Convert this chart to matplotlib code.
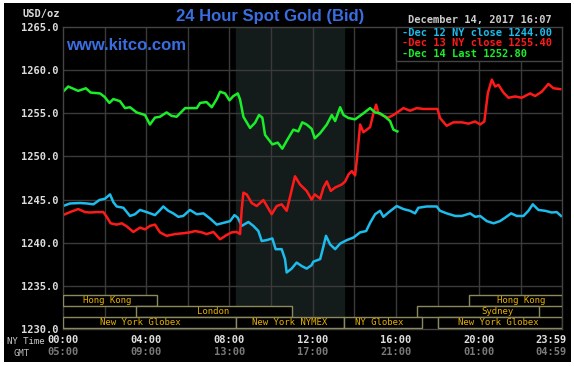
import numpy as np
import matplotlib
matplotlib.use('Agg')
import matplotlib.pyplot as plt
from matplotlib.patches import Rectangle
from matplotlib.transforms import offset_copy

# --- data (hours NY time, USD/oz) ---
green_t = [0.0, 0.25, 0.73, 1.1, 1.33, 1.78, 2.0, 2.23, 2.42, 2.74, 2.98, 3.22, 3.54, 3.94,
           4.18, 4.42, 4.66, 4.98, 5.22, 5.46, 5.87, 6.43, 6.59, 6.9, 7.15, 7.39, 7.55, 7.79,
           8.0, 8.19, 8.4, 8.51, 8.67, 8.99, 9.23, 9.42, 9.58, 9.71, 10.06, 10.32, 10.54,
           10.75, 11.07, 11.31, 11.5, 11.71, 11.95, 12.1, 12.36, 12.68, 12.92, 13.08, 13.32,
           13.48, 13.72, 14.04, 14.44, 14.76, 15.0, 15.24, 15.48, 15.72, 15.88, 16.07]
green_v = [1257.5, 1258.1, 1257.6, 1257.9, 1257.4, 1257.3, 1256.9, 1256.2, 1256.65, 1256.4,
           1255.6, 1255.7, 1255.1, 1254.8, 1253.7, 1254.5, 1254.6, 1255.1, 1254.7, 1254.6,
           1255.6, 1255.6, 1256.2, 1256.3, 1255.7, 1256.65, 1257.5, 1257.3, 1256.5, 1257.0,
           1257.3, 1256.6, 1254.6, 1253.3, 1253.9, 1254.8, 1254.5, 1252.5, 1251.4, 1251.6,
           1250.9, 1251.8, 1253.1, 1252.9, 1253.95, 1253.7, 1253.2, 1252.1, 1252.7, 1253.7,
           1254.8, 1254.1, 1255.7, 1254.8, 1254.45, 1254.3, 1255.0, 1255.6, 1255.1, 1255.0,
           1254.6, 1254.1, 1253.1, 1252.9]

red_t = [0.0, 0.34, 0.73, 1.06, 1.3, 1.62, 1.94, 2.1, 2.29, 2.58, 2.82, 3.06, 3.38, 3.7, 3.94,
         4.18, 4.42, 4.66, 4.98, 5.38, 5.78, 6.1, 6.35, 6.67, 6.9, 7.23, 7.55, 7.87, 8.11,
         8.35, 8.51, 8.59, 8.67, 8.83, 9.07, 9.31, 9.63, 10.03, 10.27, 10.51, 10.75, 10.96,
         11.15, 11.39, 11.71, 11.95, 12.1, 12.36, 12.52, 12.68, 12.87, 13.08, 13.4, 13.56,
         13.72, 13.88, 14.04, 14.12, 14.2, 14.28, 14.44, 14.6, 14.76, 14.92, 15.05, 15.16,
         15.4, 15.64, 15.88, 16.12, 16.36, 16.68, 17.0, 17.32, 18.0, 18.12, 18.44, 18.76,
         19.17, 19.49, 19.81, 20.05, 20.25, 20.42, 20.61, 20.77, 20.93, 21.17, 21.41, 21.73,
         22.05, 22.45, 22.69, 23.01, 23.33, 23.57, 23.9]
red_v = [1243.2, 1243.55, 1243.9, 1243.55, 1243.5, 1243.55, 1243.55, 1243.0, 1242.25, 1242.1,
         1242.25, 1241.9, 1241.25, 1241.75, 1241.55, 1241.95, 1242.1, 1241.2, 1240.8, 1241.0,
         1241.1, 1241.2, 1241.35, 1241.2, 1241.0, 1241.25, 1240.4, 1240.9, 1241.2, 1241.25,
         1241.0, 1243.9, 1245.8, 1245.6, 1244.6, 1244.25, 1244.95, 1243.3, 1244.25, 1244.45,
         1243.7, 1245.8, 1247.7, 1246.75, 1246.0, 1245.0, 1245.6, 1245.1, 1246.4, 1247.1,
         1246.0, 1246.4, 1246.75, 1247.1, 1247.9, 1248.3, 1247.8, 1249.6, 1251.6, 1253.7,
         1252.8, 1253.1, 1253.4, 1255.0, 1256.0, 1255.0, 1254.7, 1254.5, 1254.8, 1255.2,
         1255.6, 1255.3, 1255.6, 1255.5, 1255.5, 1254.45, 1253.55, 1253.95, 1253.95, 1253.8,
         1254.05, 1253.7, 1254.05, 1257.35, 1258.9, 1258.1, 1258.3, 1257.4, 1256.8, 1256.95,
         1256.8, 1257.3, 1257.0, 1257.5, 1258.4, 1257.9, 1257.8]

blue_t = [0.0, 0.34, 0.82, 1.14, 1.46, 1.75, 2.02, 2.26, 2.42, 2.58, 2.9, 3.22, 3.46, 3.7,
          4.02, 4.42, 4.63, 4.82, 5.06, 5.3, 5.54, 5.78, 6.1, 6.43, 6.75, 7.07, 7.39, 7.71,
          8.03, 8.24, 8.4, 8.59, 8.91, 9.15, 9.39, 9.55, 9.79, 10.06, 10.22, 10.51, 10.67,
          10.75, 10.99, 11.23, 11.47, 11.71, 11.95, 12.03, 12.36, 12.52, 12.64, 12.84, 13.08,
          13.32, 13.64, 13.96, 14.28, 14.57, 14.76, 15.0, 15.24, 15.4, 15.64, 16.04, 16.36,
          16.68, 16.92, 17.08, 17.48, 17.96, 18.12, 18.44, 18.85, 19.17, 19.57, 19.81, 20.05,
          20.37, 20.69, 21.0, 21.25, 21.54, 21.81, 22.13, 22.37, 22.58, 22.85, 23.17, 23.49,
          23.73, 23.94]
blue_v = [1244.25, 1244.55, 1244.6, 1244.55, 1244.45, 1244.95, 1245.1, 1245.6, 1244.7, 1244.2,
          1244.05, 1243.1, 1243.3, 1243.8, 1243.55, 1243.2, 1243.7, 1244.2, 1243.7, 1243.4,
          1243.0, 1243.1, 1243.8, 1243.3, 1243.4, 1242.8, 1242.1, 1242.3, 1242.5, 1243.2,
          1242.9, 1241.95, 1242.4, 1241.95, 1241.35, 1240.2, 1240.3, 1240.5, 1239.25, 1239.25,
          1238.1, 1236.55, 1237.0, 1237.7, 1237.3, 1237.0, 1237.4, 1237.8, 1238.1, 1239.6,
          1240.8, 1239.8, 1239.25, 1239.9, 1240.3, 1240.6, 1241.2, 1241.35, 1242.3, 1243.3,
          1243.7, 1243.0, 1243.5, 1244.25, 1243.9, 1243.7, 1243.4, 1244.05, 1244.2, 1244.2,
          1243.7, 1243.4, 1243.1, 1243.1, 1243.4, 1243.0, 1243.1, 1242.5, 1242.25, 1242.5,
          1242.9, 1243.4, 1243.1, 1243.1, 1243.7, 1244.45, 1243.8, 1243.7, 1243.5, 1243.55,
          1243.1]

legend_lines = ['-Dec 12 NY close 1244.00', '-Dec 13 NY close 1255.40', '-Dec 14 Last 1252.80']

yticks = [1230, 1235, 1240, 1245, 1250, 1255, 1260, 1265]
xticks = [0, 4, 8, 12, 16, 20, 23 + 59 / 60]
ny_labels = ['00:00', '04:00', '08:00', '12:00', '16:00', '20:00', '23:59']
gmt_labels = ['05:00', '09:00', '13:00', '17:00', '21:00', '01:00', '04:59']

# trading sessions: (row, start, end, label, label centre)
sessions = [
    (0, 0.0, 4.5, 'Hong Kong', 2.1),
    (0, 19.5, 23.98, 'Hong Kong', 22.0),
    (1, 3.5, 11.0, 'London', 7.2),
    (1, 17.0, 22.9, 'Sydney', 20.9),
    (2, 0.0, 8.33, 'New York Globex', 3.7),
    (2, 8.33, 13.5, 'New York NYMEX', 10.9),
    (2, 13.5, 17.25, 'NY Globex', 15.2),
    (2, 18.0, 23.98, 'New York Globex', 20.9),
]

W, H = 574, 366
def fx(x):
    return x / W
def fy(y):
    return 1 - y / H

mono = 'DejaVu Sans Mono'
sans = 'Liberation Sans'
blue_c = '#1cbcec'
red_c = '#ff1a1a'
green_c = '#1aee2a'
grid_c = '#3a3a3a'

fig = plt.figure(figsize=(W / 100, H / 100), dpi=100, facecolor='white')
fig.add_artist(Rectangle((fx(4), fy(362)), 567 / W, 359 / H, transform=fig.transFigure,
                         facecolor='black', edgecolor='none', zorder=-10))

ax = fig.add_axes([fx(63), fy(329), 499 / W, 302 / H])
ax.set_facecolor('black')
ax.set_xlim(0, 23 + 59 / 60)
ax.set_ylim(1230, 1265)

# NYMEX hours shading
ax.axvspan(8 + 20 / 60, 13.5, color='#141b1b', zorder=0)

# grid
for gx in range(2, 24, 2):
    ax.axvline(gx, color=grid_c, lw=1, zorder=1)
for gy in yticks[1:-1]:
    ax.axhline(gy, color=grid_c, lw=1, zorder=1)
for s in ax.spines.values():
    s.set_color('#444444')
    s.set_linewidth(1)

ax.plot(blue_t, blue_v, color=blue_c, lw=1.8, zorder=2)
ax.plot(red_t, red_v, color=red_c, lw=1.8, zorder=2)
ax.plot(green_t, green_v, color=green_c, lw=1.8, zorder=2)

# session bars along the bottom
row_bottom = [0.076, 0.040, 0.003]
row_h = 0.036
xt = ax.get_xaxis_transform()
for row, start, end, label, mid in sessions:
    ax.add_patch(Rectangle((start, row_bottom[row]), end - start, row_h, transform=xt,
                           facecolor='black', edgecolor='#8c8a5c', lw=1, zorder=3))
    ax.text(mid, row_bottom[row] + row_h / 2, label, transform=xt, ha='center', va='center',
            fontfamily=mono, fontsize=6.5, color='#e6b000', zorder=4)

# y ticks
ax.set_yticks(yticks)
ax.set_yticklabels(['%.1f' % v for v in yticks], fontfamily=mono, fontweight='bold',
                   fontsize=7.5, color='#dddddd')
ax.tick_params(axis='y', length=0, pad=3)
ax.set_xticks([])

# x tick labels (NY time + GMT); the last one sits right-aligned near the edge
for i, (t, ny, gmt) in enumerate(zip(xticks, ny_labels, gmt_labels)):
    last = i == len(xticks) - 1
    tr = offset_copy(xt, fig=fig, x=5 if last else 0, y=0, units='dots')
    ha = 'right' if last else 'center'
    ax.text(t, -0.036, ny, transform=tr, ha=ha, va='center', fontfamily=mono,
            fontweight='bold', fontsize=7.5, color='#e0e0e0', clip_on=False)
    ax.text(t, -0.076, gmt, transform=tr, ha=ha, va='center', fontfamily=mono,
            fontweight='bold', fontsize=7.5, color='#7a7a7a', clip_on=False)
fig.text(fx(7), fy(341), 'NY Time', ha='left', va='center', fontfamily=mono, fontsize=6.5,
         color='#cccccc')
fig.text(fx(14), fy(353), 'GMT', ha='left', va='center', fontfamily=mono, fontsize=6.5,
         color='#bbbbbb')

# legend box
ax.add_patch(Rectangle((0.667, 0.887), 0.333, 0.113, transform=ax.transAxes,
                       facecolor='black', edgecolor='#444444', lw=1, zorder=5))
for i, (txt, c) in enumerate(zip(legend_lines, [blue_c, red_c, green_c])):
    fig.text(fx(402), fy(33 + i * 10.5), txt, ha='left', va='center', fontfamily=mono,
             fontweight='bold', fontsize=7.5, color=c)

# headings
fig.text(fx(60), fy(14), 'USD/oz', ha='right', va='center', fontfamily=mono,
         fontweight='bold', fontsize=7.5, color='#dddddd')
fig.text(fx(270), fy(16), '24 Hour Spot Gold (Bid)', ha='center', va='center',
         fontfamily=sans, fontweight='bold', fontsize=12, color='#3a6ee0')
fig.text(fx(66), fy(46), 'www.kitco.com', ha='left', va='center', fontfamily=sans,
         fontweight='bold', fontsize=12, color='#3a6ee0')
fig.text(fx(552), fy(20), 'December 14, 2017 16:07', ha='right', va='center',
         fontfamily=mono, fontweight='bold', fontsize=7.5, color='#cccccc')

fig.savefig('out.png', dpi=100, facecolor='white')
